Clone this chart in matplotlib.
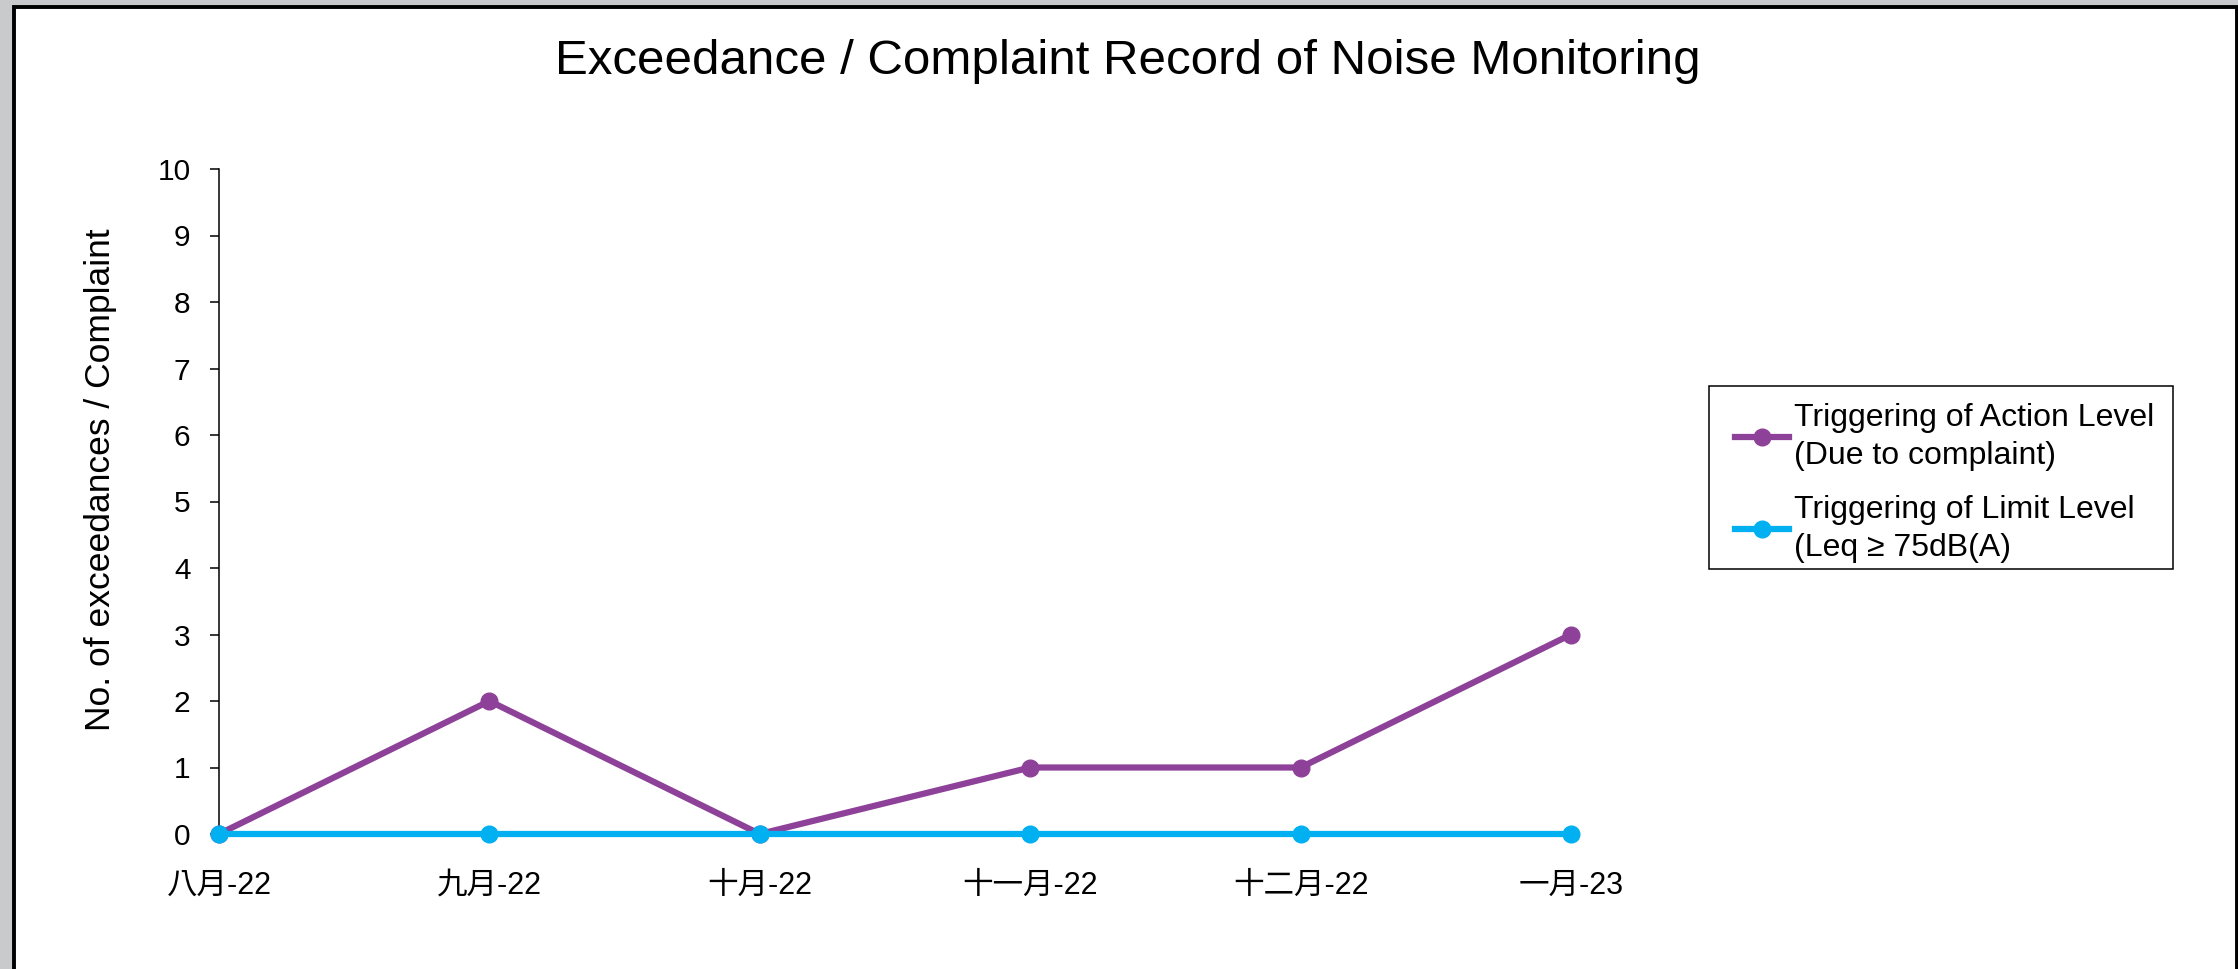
import matplotlib
matplotlib.use('Agg')
import matplotlib.pyplot as plt
from matplotlib.patches import Rectangle

plt.rcParams['font.family'] = ['Liberation Sans', 'Noto Sans CJK TC', 'DejaVu Sans']

# monthly counts
months = ['八月-22', '九月-22', '十月-22', '十一月-22', '十二月-22', '一月-23']
action_level = [0, 2, 0, 1, 1, 3]
limit_level = [0, 0, 0, 0, 0, 0]

action_label = 'Triggering of Action Level\n(Due to complaint)'
limit_label = 'Triggering of Limit Level\n(Leq ≥ 75dB(A)'

purple = '#8E4198'
blue = '#00B0F0'

W, H = 2238, 969
fig = plt.figure(figsize=(W / 100, H / 100), dpi=100, facecolor='white')


def px_box(x0, y0, x1, y1, **kw):
    # rectangle given in pixel coords measured from the top-left corner
    return Rectangle((x0 / W, 1 - y1 / H), (x1 - x0) / W, (y1 - y0) / H,
                     transform=fig.transFigure, **kw)


# grey strip + black frame around the chart area (kept behind the axes)
fig.patches.append(px_box(0, 0, 14, H, facecolor='#c9cacc', edgecolor='none', zorder=-3))
fig.patches.append(px_box(0, 0, W, 6, facecolor='#c9cacc', edgecolor='none', zorder=-3))
fig.patches.append(px_box(14, 7, 2237, H + 10, facecolor='white', edgecolor='black',
                          linewidth=2.8, zorder=-2))
# legend frame
fig.patches.append(px_box(1709, 386, 2173, 569, facecolor='white', edgecolor='black',
                          linewidth=1.1, zorder=-1))

ax = fig.add_axes([219 / W, 1 - 834 / H, (1571 - 219) / W, (834 - 169) / H])
ax.set_facecolor('none')
ax.set_zorder(1)

x = list(range(len(months)))
ax.plot(x, action_level, color=purple, linewidth=4.5, marker='o', markersize=12,
        clip_on=False, zorder=3, label=action_label)
ax.plot(x, limit_level, color=blue, linewidth=4.5, marker='o', markersize=12,
        clip_on=False, zorder=4, label=limit_label)

ax.set_xlim(0, len(months) - 1)
ax.set_ylim(0, 10)
ax.set_xticks(x)
ax.set_xticklabels(months)
ax.set_yticks(range(0, 11))

ax.spines['top'].set_visible(False)
ax.spines['right'].set_visible(False)
for s in ('left', 'bottom'):
    ax.spines[s].set_linewidth(1.1)
    ax.spines[s].set_color('black')
ax.tick_params(axis='both', direction='out', length=6.5, width=1.1)
ax.tick_params(axis='y', labelsize=21.5, pad=14)
ax.tick_params(axis='x', labelsize=22, pad=20)

fig.text(101 / W, 1 - 480 / H, 'No. of exceedances / Complaint', rotation=90,
         ha='center', va='center', fontsize=25.5)

fig.text(1128 / W, 1 - 61 / H, 'Exceedance / Complaint Record of Noise Monitoring',
         ha='center', va='center', fontsize=35.5)

leg = fig.legend(loc='upper left', bbox_to_anchor=(1735 / W, 1 - 403 / H),
                 fontsize=23, frameon=False, handlelength=1.7, handletextpad=0.15,
                 borderpad=0, labelspacing=0.75, borderaxespad=0)
leg.set_zorder(5)
for t in leg.get_texts():
    t.set_linespacing(1.35)

fig.savefig('out.png', dpi=100, facecolor=fig.get_facecolor())
